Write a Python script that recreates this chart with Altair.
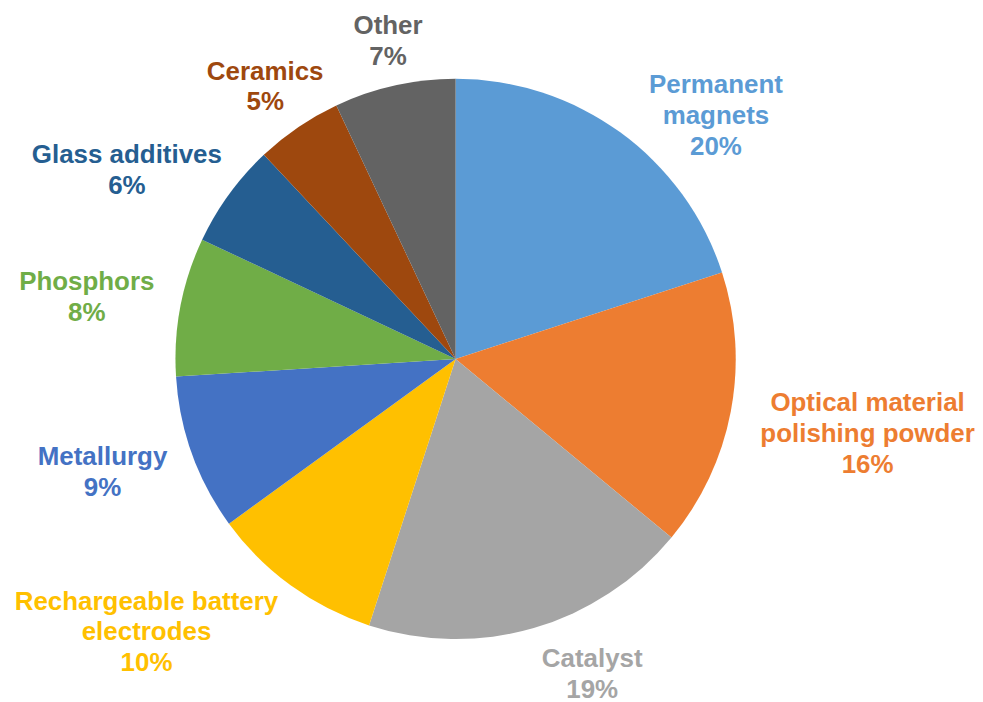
import math
import altair as alt
import pandas as pd

# ---- data -------------------------------------------------------------
categories = [
    "Permanent magnets",
    "Optical material polishing powder",
    "Catalyst",
    "Rechargeable battery electrodes",
    "Metallurgy",
    "Phosphors",
    "Glass additives",
    "Ceramics",
    "Other",
]
label_lines = [
    ["Permanent", "magnets"],
    ["Optical material", "polishing powder"],
    ["Catalyst"],
    ["Rechargeable battery", "electrodes"],
    ["Metallurgy"],
    ["Phosphors"],
    ["Glass additives"],
    ["Ceramics"],
    ["Other"],
]
shares = [20, 16, 19, 10, 9, 8, 6, 5, 7]
colors = ["#5B9BD5", "#ED7D31", "#A5A5A5", "#FFC000", "#4472C4",
          "#70AD47", "#255E91", "#9E480E", "#636363"]

# ---- label layout (Excel "best fit" placement) -------------------------
label_nudge_deg = [11.0, -0.5, -7.2, 12.5, 2.0, -1.4, -6.2, -0.8, 0.6]
label_dist = [357, 420, 345, 414, 372, 375, 380, 333, 326]
LINE_H = 31

total = sum(shares)
rows = []
cum = 0
for i, (c, lines, s) in enumerate(zip(categories, label_lines, shares)):
    mid = (cum + s / 2) / total * 2 * math.pi
    cum += s
    rows.append({
        "idx": i,
        "category": c,
        "share": s,
        "label": "\n".join(lines + [f"{s}%"]),
        "nlines": len(lines) + 1,
        "lab_theta": mid + math.radians(label_nudge_deg[i]),
        "lab_r": label_dist[i],
    })
df = pd.DataFrame(rows)

color_scale = alt.Scale(domain=categories, range=colors)
CX, CY = 449, 351

base = alt.Chart(df)

pie = base.mark_arc(outerRadius=281, stroke=None).encode(
    theta=alt.Theta("share:Q", stack=True),
    order=alt.Order("idx:Q", sort="ascending"),
    color=alt.Color("category:N", scale=color_scale, legend=None),
    x=alt.value(CX),
    y=alt.value(CY),
)


def label_layer(n):
    return base.transform_filter(alt.datum.nlines == n).mark_text(
        font="Liberation Sans",
        fontSize=26,
        fontWeight="bold",
        lineHeight=LINE_H,
        lineBreak="\n",
        align="center",
        baseline="middle",
        dy=-(n - 1) * LINE_H / 2,
    ).encode(
        theta=alt.Theta("lab_theta:Q", scale=None),
        radius=alt.Radius("lab_r:Q", scale=None),
        text="label:N",
        color=alt.Color("category:N", scale=color_scale, legend=None),
        x=alt.value(CX),
        y=alt.value(CY),
    )


chart = alt.layer(pie, label_layer(2), label_layer(3)).properties(
    width=970,
    height=694,
    autosize=alt.AutoSizeParams(type="none"),
    padding=0,
    background="white",
).configure_view(stroke=None)

chart.save("out.html", embed_options={"renderer": "svg", "actions": False})
